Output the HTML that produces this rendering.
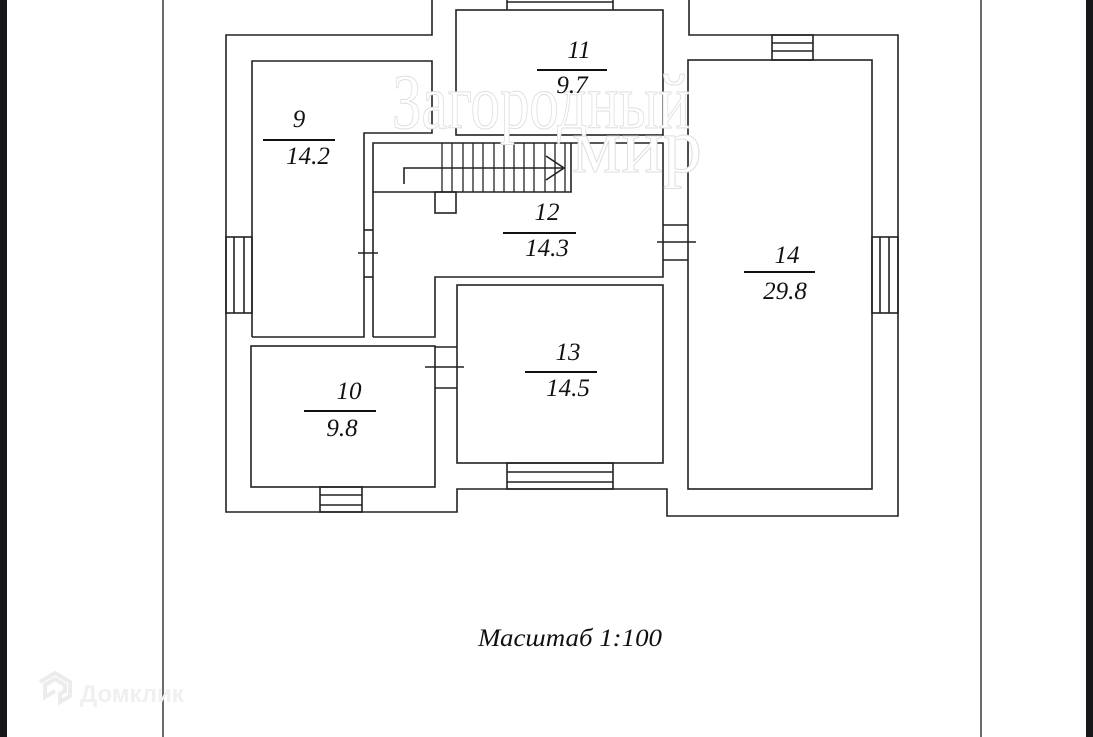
<!DOCTYPE html>
<html><head><meta charset="utf-8"><style>
html,body{margin:0;padding:0;background:#fff;width:1093px;height:737px;overflow:hidden}
svg{display:block}
text{font-family:"Liberation Serif",serif;font-style:italic;fill:#111}
</style></head><body>
<svg width="1093" height="737" viewBox="0 0 1093 737" xmlns="http://www.w3.org/2000/svg">
<rect x="0" y="0" width="1093" height="737" fill="#fff"/>
<rect x="0" y="0" width="7" height="737" fill="#17171a"/>
<rect x="1086" y="0" width="7" height="737" fill="#17171a"/>
<line x1="163" y1="0" x2="163" y2="737" stroke="#6a6a6a" stroke-width="2"/>
<line x1="981" y1="0" x2="981" y2="737" stroke="#6a6a6a" stroke-width="2"/>

<g fill="none" stroke="#222" stroke-width="1.6">
<polyline points="432,0 432,35 226,35 226,512 457,512 457,489 667,489 667,516 898,516 898,35 689,35 689,0"/>
<rect x="456" y="10" width="207" height="125"/>
<line x1="507" y1="0" x2="507" y2="10"/><line x1="613" y1="0" x2="613" y2="10"/><line x1="507" y1="2" x2="613" y2="2"/>
<polyline points="252,337 252,61 432,61 432,133 364,133 364,337 252,337"/>
<polyline points="373,337 373,143 663,143 663,277 435,277 435,337 373,337"/>
<line x1="584" y1="135" x2="584" y2="143"/><line x1="630" y1="135" x2="630" y2="143"/>
<rect x="457" y="285" width="206" height="178"/>
<rect x="251" y="346" width="184" height="141"/>
<rect x="688" y="60" width="184" height="429"/>
<rect x="226" y="237" width="26" height="76"/><line x1="234" y1="237" x2="234" y2="313"/><line x1="244" y1="237" x2="244" y2="313"/>
<rect x="772" y="35" width="41" height="25"/><line x1="772" y1="43" x2="813" y2="43"/><line x1="772" y1="51" x2="813" y2="51"/>
<rect x="872" y="237" width="26" height="76"/><line x1="880" y1="237" x2="880" y2="313"/><line x1="889" y1="237" x2="889" y2="313"/>
<rect x="320" y="487" width="42" height="25"/><line x1="320" y1="495" x2="362" y2="495"/><line x1="320" y1="505" x2="362" y2="505"/>
<rect x="507" y="463" width="106" height="26"/><line x1="507" y1="472" x2="613" y2="472"/><line x1="507" y1="482" x2="613" y2="482"/>
<line x1="364" y1="230" x2="373" y2="230"/><line x1="364" y1="277" x2="373" y2="277"/><line x1="358" y1="253" x2="378" y2="253"/>
<line x1="663" y1="225" x2="688" y2="225"/><line x1="663" y1="260" x2="688" y2="260"/><line x1="657" y1="242" x2="696" y2="242"/>
<line x1="435" y1="347" x2="457" y2="347"/><line x1="435" y1="388" x2="457" y2="388"/><line x1="425" y1="367" x2="464" y2="367"/>
<polyline points="373,192 571,192 571,143"/>
<rect x="435" y="192" width="21" height="21"/>
<g stroke-width="1.3">
<line x1="442" y1="143" x2="442" y2="192"/><line x1="452" y1="143" x2="452" y2="192"/><line x1="463" y1="143" x2="463" y2="192"/><line x1="473" y1="143" x2="473" y2="192"/><line x1="483" y1="143" x2="483" y2="192"/><line x1="494" y1="143" x2="494" y2="192"/><line x1="504" y1="143" x2="504" y2="192"/><line x1="514" y1="143" x2="514" y2="192"/><line x1="524" y1="143" x2="524" y2="192"/><line x1="534" y1="143" x2="534" y2="192"/><line x1="545" y1="143" x2="545" y2="192"/><line x1="555" y1="143" x2="555" y2="192"/><line x1="565" y1="143" x2="565" y2="192"/>
</g>
<polyline points="404,184 404,168 564,168"/>
<polyline points="546,156 564,168 546,180"/>
</g>

<g stroke="#dedede" stroke-width="1">
<text x="392" y="128" font-size="78" textLength="298" lengthAdjust="spacingAndGlyphs" style="fill:#fff;font-style:normal">Загородный</text>
<text x="572" y="172" font-size="78" textLength="130" lengthAdjust="spacingAndGlyphs" style="fill:#fff;font-style:normal">мир</text>
</g>

<g font-size="25" text-anchor="middle">
<text x="299" y="127">9</text><text x="308" y="164">14.2</text>
<text x="579" y="58">11</text><text x="572" y="93">9.7</text>
<text x="547" y="220">12</text><text x="547" y="256">14.3</text>
<text x="787" y="263">14</text><text x="785" y="299">29.8</text>
<text x="568" y="360">13</text><text x="568" y="396">14.5</text>
<text x="349" y="399">10</text><text x="342" y="436">9.8</text>
</g>
<g stroke="#111" stroke-width="2">
<line x1="263" y1="140" x2="335" y2="140"/>
<line x1="537" y1="70" x2="607" y2="70"/>
<line x1="503" y1="233" x2="576" y2="233"/>
<line x1="744" y1="272" x2="815" y2="272"/>
<line x1="525" y1="372" x2="597" y2="372"/>
<line x1="304" y1="411" x2="376" y2="411"/>
</g>
<text x="478" y="646" font-size="25" textLength="184" lengthAdjust="spacingAndGlyphs">Масштаб 1:100</text>

<path d="M40,682 l15,-9 l15,9 v14 l-10,6 v-8 l5,-3 v-6 l-10,-6 l-10,6 v12 l10,-6" fill="none" stroke="#ececec" stroke-width="4"/>
<text x="80" y="702" font-size="24" font-weight="bold" style="font-family:'Liberation Sans',sans-serif;font-style:normal;fill:#f0f0f0">Домклик</text>
</svg>
</body></html>
